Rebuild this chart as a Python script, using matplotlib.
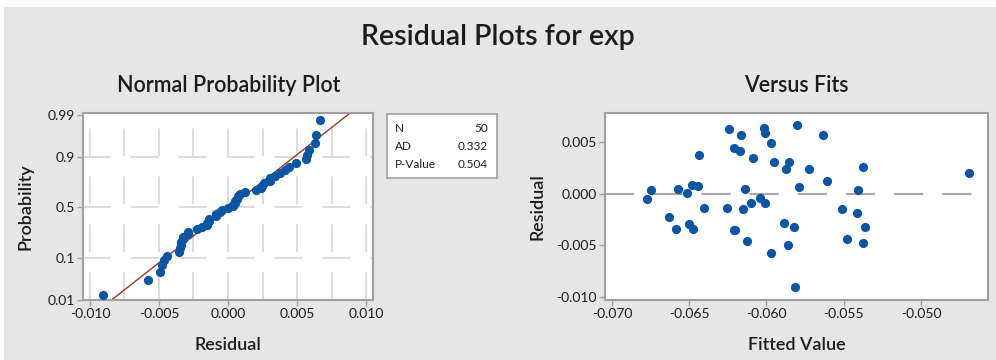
import statistics
import numpy as np
import matplotlib
matplotlib.use('Agg')
import matplotlib.pyplot as plt
from matplotlib.patches import Rectangle
from matplotlib.ticker import FixedLocator, FuncFormatter

# fitted values and residuals of the model for exp
fitted = [-0.06773, -0.06748, -0.06633, -0.06586, -0.06573, -0.06515, -0.06500,
          -0.06482, -0.06476, -0.06446, -0.06437, -0.06402, -0.06256, -0.06245,
          -0.06213, -0.06213, -0.06170, -0.06163, -0.06152, -0.06141, -0.06126,
          -0.06100, -0.06087, -0.06044, -0.06018, -0.06008, -0.06008, -0.05971,
          -0.05971, -0.05950, -0.05885, -0.05874, -0.05857, -0.05862, -0.05824,
          -0.05818, -0.05803, -0.05792, -0.05727, -0.05634, -0.05608, -0.05511,
          -0.05479, -0.05414, -0.05408, -0.05375, -0.05375, -0.05360, -0.04692,
          -0.06205]
resid = [-0.00055, 0.00036, -0.00223, -0.00340, 0.00049, 0.00003, -0.00290,
         0.00087, -0.00340, 0.00071, 0.00375, -0.00136, -0.00136, 0.00631,
         -0.00353, 0.00440, 0.00411, 0.00570, -0.00152, 0.00049, -0.00460,
         -0.00087, 0.00343, -0.00045, 0.00634, -0.00087, 0.00586, 0.00492,
         -0.00579, 0.00307, -0.00288, 0.00243, 0.00307, -0.00492, -0.00324,
         -0.00906, 0.00667, 0.00065, 0.00239, 0.00566, 0.00123, -0.00152,
         -0.00443, -0.00191, 0.00036, 0.00259, -0.00476, -0.00324, 0.00204,
         -0.00348]

stats_rows = [('N', '50'), ('AD', '0.332'), ('P-Value', '0.504')]
prob_ticks = [0.01, 0.1, 0.5, 0.9, 0.99]
prob_grid = [0.1, 0.5, 0.9]
resid_ticks = [-0.010, -0.005, 0.0, 0.005, 0.010]
fit_ticks = [-0.070, -0.065, -0.060, -0.055, -0.050]
resid_vticks = [-0.010, -0.005, 0.0, 0.005]

plt.rcParams['font.family'] = ['Lato', 'DejaVu Sans']
plt.rcParams['lines.scale_dashes'] = False

W, H = 996, 360
BLUE = '#0a56a5'
TXT = '#1c1c1c'
SPINE = '#a0a0a0'
nd = statistics.NormalDist()

fig = plt.figure(figsize=(W / 100, H / 100), dpi=100, facecolor='white')
fig.patches.append(Rectangle((4 / W, 0), 1, (H - 7) / H, transform=fig.transFigure,
                             facecolor='#e6e6e6', edgecolor='none', zorder=-10))


def px_axes(x0, y0, x1, y1):
    return fig.add_axes([x0 / W, 1 - y1 / H, (x1 - x0) / W, (y1 - y0) / H])


def style(ax):
    for sp in ax.spines.values():
        sp.set_color(SPINE)
        sp.set_linewidth(1.5)
    ax.tick_params(length=4, width=1, color=SPINE, labelsize=10, labelcolor=TXT, pad=2)


fig.text(498 / W, 1 - 37 / H, 'Residual Plots for exp', ha='center', va='center',
         fontsize=20.5, color=TXT, fontweight='semibold')

# --- normal probability plot ---
ax1 = px_axes(83, 113, 373, 300)
style(ax1)
n = len(resid)
r_sorted = np.sort(resid)
pos = [(i + 1 - 0.3) / (n + 0.4) for i in range(n)]
z = np.array([nd.inv_cdf(p) for p in pos])

for gx in np.arange(-0.010, 0.0101, 0.0025):
    ax1.axvline(gx, color='#dcdcdc', lw=1.5, dashes=(20, 14.5), zorder=0)
for gp in prob_grid:
    ax1.axhline(nd.inv_cdf(gp), color='#dcdcdc', lw=1.5, dashes=(20, 14.5), zorder=0)

mu, sd = np.mean(resid), np.std(resid, ddof=1)
zl = np.array([-3.0, 3.0])
ax1.plot(mu + sd * zl, zl, color='#a8322d', lw=1, zorder=2)
ax1.scatter(r_sorted, z, s=44, color=BLUE, zorder=3, linewidths=0)

ax1.set_xlim(-0.0105, 0.0105)
ax1.set_ylim(nd.inv_cdf(0.01), 2.376)
ax1.xaxis.set_major_locator(FixedLocator(resid_ticks))
ax1.xaxis.set_major_formatter(FuncFormatter(lambda v, p: '{:.3f}'.format(v)))
ax1.yaxis.set_major_locator(FixedLocator([nd.inv_cdf(p) for p in prob_ticks]))
ax1.set_yticklabels([str(p) for p in prob_ticks])
ax1.set_xlabel('Residual', fontsize=13, color=TXT, labelpad=12, fontweight='semibold')
ax1.set_ylabel('Probability', fontsize=13, color=TXT, labelpad=10, fontweight='semibold')
fig.text(229 / W, 1 - 85 / H, 'Normal Probability Plot', ha='center', va='center',
         fontsize=15.5, color=TXT, fontweight='semibold')

# stats box
axs = px_axes(387, 114, 497, 178)
axs.set_xticks([])
axs.set_yticks([])
axs.set_facecolor('white')
for sp in axs.spines.values():
    sp.set_color(SPINE)
    sp.set_linewidth(1.2)
for i, (k, v) in enumerate(stats_rows):
    yy = 1 - (14 + 18 * i) / 64
    axs.text(8 / 110, yy, k, ha='left', va='center', fontsize=8.5, color=TXT,
             transform=axs.transAxes)
    axs.text(101 / 110, yy, v, ha='right', va='center', fontsize=8.5, color=TXT,
             transform=axs.transAxes)

# --- versus fits ---
ax2 = px_axes(605, 113, 988, 300)
style(ax2)
ax2.axhline(0, color='#a6a6a6', lw=1.5, dashes=(21, 13.7), zorder=1)
ax2.scatter(fitted, resid, s=44, color=BLUE, zorder=3, linewidths=0)
ax2.set_xlim(-0.07045, -0.04566)
ax2.set_ylim(-0.0103, 0.00783)
ax2.xaxis.set_major_locator(FixedLocator(fit_ticks))
ax2.yaxis.set_major_locator(FixedLocator(resid_vticks))
fmt = FuncFormatter(lambda v, p: '{:.3f}'.format(v))
ax2.xaxis.set_major_formatter(fmt)
ax2.yaxis.set_major_formatter(fmt)
ax2.set_xlabel('Fitted Value', fontsize=13, color=TXT, labelpad=12, fontweight='semibold')
ax2.set_ylabel('Residual', fontsize=13, color=TXT, labelpad=8, fontweight='semibold')
fig.text(796 / W, 1 - 85 / H, 'Versus Fits', ha='center', va='center',
         fontsize=15.5, color=TXT, fontweight='semibold')

fig.savefig('out.png', dpi=100, facecolor=fig.get_facecolor())
